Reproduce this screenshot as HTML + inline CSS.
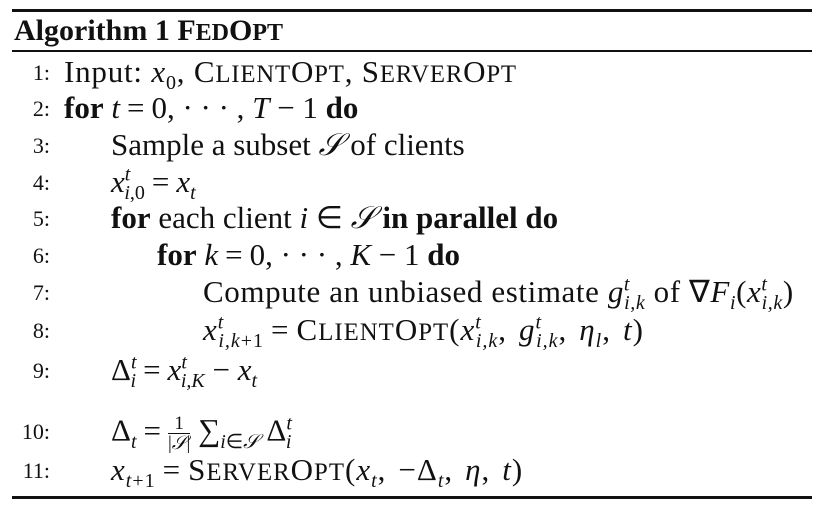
<!DOCTYPE html>
<html><head><meta charset="utf-8"><style>
body{margin:0;background:#fff;width:822px;height:513px;overflow:hidden;position:relative;font-family:"Liberation Serif",serif;color:#111}
.r{position:absolute;left:12px;width:800px;background:#111}
.l{position:absolute;font-size:31px;line-height:30px;white-space:nowrap}
.n{position:absolute;width:50px;text-align:right;font-size:22px;line-height:30px}
i{font-style:italic}
small{font-size:80%}
sub,sup{font-size:20px;line-height:0}
b{font-weight:bold}
.m{display:inline-block;margin:0 7px}
.c{display:inline-block;width:12px}
</style></head><body>
<div class="r" style="top:9px;height:3px"></div>
<div class="l" style="left:14px;top:16px;font-weight:bold;font-size:30px">Algorithm 1 F<small>ED</small>O<small>PT</small></div>
<div class="r" style="top:50px;height:2px"></div>

<div class="n" style="top:58px">1:</div>
<div class="l" style="left:64px;top:57px;letter-spacing:0.8px">Input: <i>x</i><sub>0</sub>, C<small>LIENT</small>O<small>PT</small>, S<small>ERVER</small>O<small>PT</small></div>

<div class="n" style="top:94px">2:</div>
<div class="l" style="left:64px;top:93px"><b>for</b> <i>t</i><span class="m">=</span>0, · · · , <i>T</i> − 1 <b>do</b></div>

<div class="n" style="top:131px">3:</div>
<div class="l" style="left:111px;top:130px">Sample a subset <i>𝒮</i> of clients</div>

<div class="n" style="top:168px">4:</div>
<div class="l" style="left:111px;top:167px"><i>x</i><sup><i>t</i></sup><sub style="margin-left:-6px"><i>i</i>,0</sub><span class="m">=</span><i>x</i><sub><i>t</i></sub></div>

<div class="n" style="top:204px">5:</div>
<div class="l" style="left:111px;top:203px"><b>for</b> each client <i>i</i> ∈ <i>𝒮</i> <b>in parallel do</b></div>

<div class="n" style="top:241px">6:</div>
<div class="l" style="left:157px;top:240px"><b>for</b> <i>k</i><span class="m">=</span>0, · · · , <i>K</i> − 1 <b>do</b></div>

<div class="n" style="top:278px">7:</div>
<div class="l" style="left:203px;top:277px;letter-spacing:0.6px">Compute an unbiased estimate <i>g</i><sup><i>t</i></sup><sub style="margin-left:-6px"><i>i,k</i></sub> of ∇<i>F<sub>i</sub></i>(<i>x</i><sup><i>t</i></sup><sub style="margin-left:-6px"><i>i,k</i></sub>)</div>

<div class="n" style="top:316px">8:</div>
<div class="l" style="left:203px;top:315px;letter-spacing:1px"><i>x</i><sup><i>t</i></sup><sub style="margin-left:-6px"><i>i,k</i>+1</sub><span class="m">=</span>C<small>LIENT</small>O<small>PT</small>(<i>x</i><sup><i>t</i></sup><sub style="margin-left:-6px"><i>i,k</i></sub>,<span class="c"></span><i>g</i><sup><i>t</i></sup><sub style="margin-left:-6px"><i>i,k</i></sub>,<span class="c"></span><i>η<sub>l</sub></i>,<span class="c"></span><i>t</i>)</div>

<div class="n" style="top:356px">9:</div>
<div class="l" style="left:111px;top:355px">Δ<sup><i>t</i></sup><sub style="margin-left:-6px"><i>i</i></sub><span class="m">=</span><i>x</i><sup><i>t</i></sup><sub style="margin-left:-6px"><i>i,K</i></sub> − <i>x</i><sub><i>t</i></sub></div>

<div class="n" style="top:417px">10:</div>
<div class="l" style="left:111px;top:414px">Δ<sub><i>t</i></sub><span class="m">=</span><span style="display:inline-block;vertical-align:middle;text-align:center;font-size:19px;line-height:19px"><span style="display:block;border-bottom:1px solid #111">1</span><span style="display:block">|<i>𝒮</i>|</span></span> ∑<sub><i>i</i>∈<i>𝒮</i></sub> Δ<sup><i>t</i></sup><sub style="margin-left:-6px"><i>i</i></sub></div>

<div class="n" style="top:456px">11:</div>
<div class="l" style="left:111px;top:455px;letter-spacing:1px"><i>x</i><sub><i>t</i>+1</sub><span class="m">=</span>S<small>ERVER</small>O<small>PT</small>(<i>x</i><sub><i>t</i></sub>,<span class="c"></span>−Δ<sub><i>t</i></sub>,<span class="c"></span><i>η</i>,<span class="c"></span><i>t</i>)</div>

<div class="r" style="top:496px;height:3px"></div>
</body></html>
